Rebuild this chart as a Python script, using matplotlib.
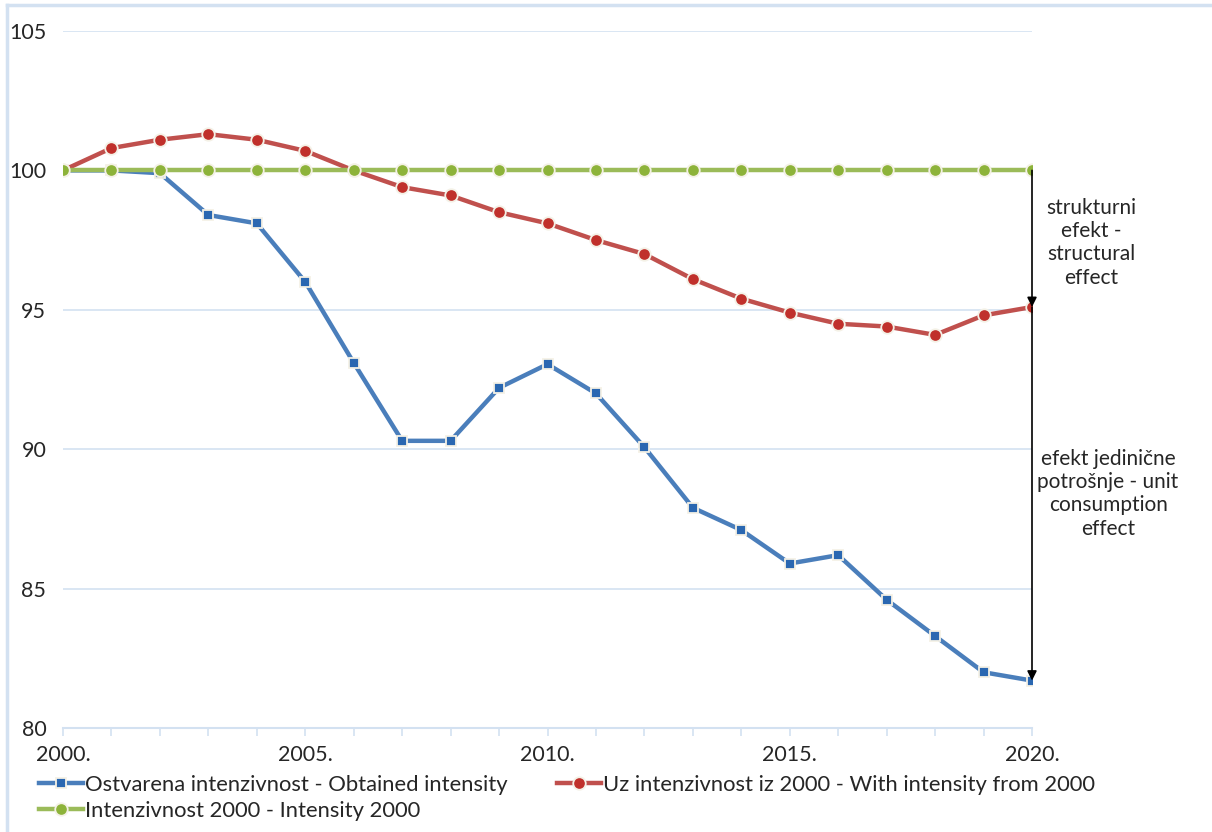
import matplotlib.pyplot as plt
from matplotlib.lines import Line2D

# data
years = list(range(2000, 2021))
obtained = [100.0, 100.0, 99.9, 98.4, 98.1, 96.0, 93.1, 90.3, 90.3, 92.2, 93.05,
            92.0, 90.07, 87.9, 87.1, 85.9, 86.2, 84.6, 83.3, 82.0, 81.7]
with_2000 = [100.0, 100.8, 101.1, 101.3, 101.1, 100.7, 100.0, 99.4, 99.1, 98.5, 98.1,
             97.5, 97.0, 96.1, 95.4, 94.9, 94.5, 94.4, 94.1, 94.8, 95.1]
intensity_2000 = [100.0] * 21
y_ticks = [80, 85, 90, 95, 100, 105]
x_labels = {2000: '2000.', 2005: '2005.', 2010: '2010.', 2015: '2015.', 2020: '2020.'}

plt.rcParams['font.family'] = ['Lato', 'DejaVu Sans']

fig = plt.figure(figsize=(12.12, 8.32), dpi=100)
ax = fig.add_axes([63 / 1212, 1 - 728 / 832, (1032 - 63) / 1212, (728 - 31) / 832])

grid_col = '#d3e1f1'
txt_col = '#262626'

l1, = ax.plot(years, obtained, color='#4a7ebb', linewidth=3.2, marker='s', markersize=7,
              markerfacecolor='#2a67b1', markeredgecolor='#f4f1e6', markeredgewidth=1.3,
              zorder=3, label='Ostvarena intenzivnost - Obtained intensity')
l2, = ax.plot(years, with_2000, color='#c0504d', linewidth=3.2, marker='o', markersize=9,
              markerfacecolor='#c0302b', markeredgecolor='#f4f1e6', markeredgewidth=1.3,
              zorder=4, label='Uz intenzivnost iz 2000 - With intensity from 2000')
l3, = ax.plot(years, intensity_2000, color='#9bbb59', linewidth=3.2, marker='o', markersize=9,
              markerfacecolor='#8db33a', markeredgecolor='#f4f1e6', markeredgewidth=1.3,
              zorder=5, label='Intenzivnost 2000 - Intensity 2000')

# arrows for the two effects
ax.annotate('', xy=(2020, with_2000[-1]), xytext=(2020, intensity_2000[-1]),
            arrowprops=dict(arrowstyle='-|>', color='black', lw=1.2, mutation_scale=14,
                            shrinkA=0, shrinkB=0), zorder=6)
ax.annotate('', xy=(2020, obtained[-1]), xytext=(2020, with_2000[-1]),
            arrowprops=dict(arrowstyle='-|>', color='black', lw=1.2, mutation_scale=14,
                            shrinkA=0, shrinkB=0), zorder=6)

ax.text(2021.22, 97.4, 'strukturni\nefekt -\nstructural\neffect', ha='center', va='center',
        fontsize=15, color=txt_col, linespacing=1.2)
ax.text(2021.57, 88.4, 'efekt jedinične\npotrošnje - unit\nconsumption\neffect', ha='center',
        va='center', fontsize=15, color=txt_col, linespacing=1.2)

ax.set_xlim(2000, 2020)
ax.set_ylim(80, 105)
ax.set_yticks(y_ticks)
ax.set_yticklabels([str(v) for v in y_ticks])
ax.set_xticks(years)
ax.set_xticklabels([x_labels.get(y, '') for y in years])
ax.grid(axis='y', color=grid_col, linewidth=1.2, zorder=0)
for s in ['left', 'right', 'top']:
    ax.spines[s].set_visible(False)
ax.spines['bottom'].set_color(grid_col)
ax.spines['bottom'].set_linewidth(1.5)
ax.tick_params(axis='y', length=0, pad=12, labelsize=15.5, labelcolor=txt_col)
ax.tick_params(axis='x', length=6, width=1.2, color=grid_col, pad=6, labelsize=15.5,
               labelcolor=txt_col)

ax.legend(handles=[l1, l3, l2], ncol=2, loc='upper left', bbox_to_anchor=(-0.034, -0.055),
          frameon=False, fontsize=15.8, handlelength=2.0, handletextpad=0.1,
          columnspacing=2.25, labelspacing=0.25, borderaxespad=0, labelcolor=txt_col)

# light frame around the chart
fig.add_artist(Line2D([7 / 1212, 1], [1 - 5 / 832, 1 - 5 / 832], color=grid_col, lw=2.5))
fig.add_artist(Line2D([7 / 1212, 7 / 1212], [0, 1 - 5 / 832], color=grid_col, lw=2.5))

plt.savefig('out.png', dpi=100)
